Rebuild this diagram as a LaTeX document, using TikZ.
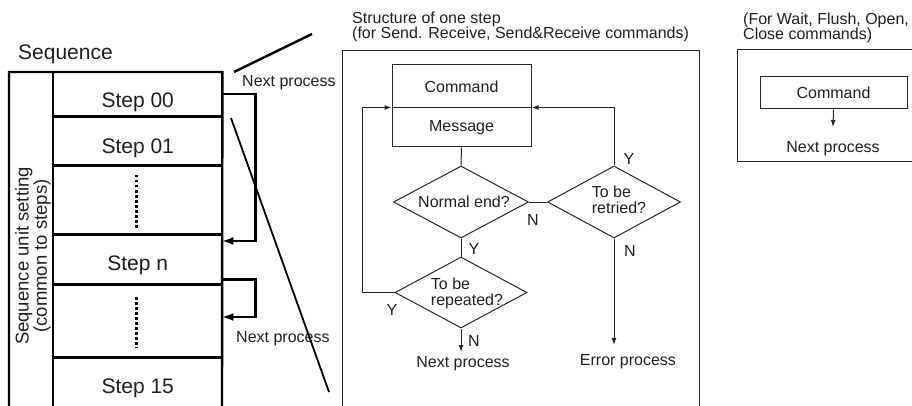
\documentclass[tikz,border=0pt]{standalone}
\usepackage{fontspec}
\setmainfont{Liberation Sans}
\usetikzlibrary{arrows.meta,shapes.geometric}
\begin{document}
\begin{tikzpicture}[x=1pt,y=-1pt,
  thickline/.style={line width=2.4pt, draw=black},
  thickarr/.style={thickline, -{Latex[length=12pt,width=8pt]}},
  thinline/.style={line width=1pt, draw=black!85},
  arr/.style={thinline, -{Latex[length=7pt,width=5pt]}},
  bigtxt/.style={font=\fontsize{21}{24}\selectfont, text=black!88},
  smalltxt/.style={font=\fontsize{16}{16}\selectfont, text=black!88, inner sep=0pt},
  rottxt/.style={font=\fontsize{18.5}{16}\selectfont, text=black!88, align=center, inner sep=0pt},
  rowbox/.style={bigtxt, minimum width=169pt, inner sep=0pt, anchor=north west},
  fbox/.style={thinline, draw, smalltxt, inner sep=0pt},
  dec/.style={diamond, draw=black!85, line width=1pt, inner sep=0pt, aspect=2, minimum height=72pt},
  dotline/.style={line width=3pt, dash pattern=on 2.5pt off 2.5pt, draw=black}
]
\useasboundingbox (0,0) rectangle (912,406);

% ---------------- left: sequence ----------------
\node[bigtxt, anchor=base west, inner sep=0pt] (seqlbl) at (18,60) {Sequence};

\node[rowbox, text height=35pt, text depth=9pt] (r00) at (53,72) {Step 00};
\node[rowbox, text height=37pt, text depth=12pt] (r01) at (53,116) {Step 01};
\node[rowbox, minimum height=69pt] (d1) at (53,165) {};
\node[rowbox, text height=36pt, text depth=14pt] (rn) at (53,234) {Step n};
\node[rowbox, minimum height=73pt] (d2) at (53,284) {};
\node[rowbox, text height=36pt, text depth=13pt] (r15) at (53,357) {Step 15};

\draw[thickline] (9,406) -- (9,72) -- (r00.north east) -- (222,406);
\draw[thickline] (r00.north west) -- (53,406);
\foreach \nd in {r00,r01,d1,rn,d2}{
  \draw[thickline] (\nd.south west) -- (\nd.south east);
}
\draw[dotline] ([xshift=-1.5pt,yshift=-10pt]d1.north) -- ([xshift=-1.5pt,yshift=6pt]d1.south);
\draw[dotline] ([xshift=-1.5pt,yshift=-13pt]d2.north) -- ([xshift=-1.5pt,yshift=9pt]d2.south);

\node[rottxt, rotate=90] (unit) at (33,256) {Sequence unit setting\\(common to steps)};

\draw[thickarr, shorten >=-1pt] (r00.east) -- ++(33,0) |- ([yshift=-7pt]rn.north east);
\draw[thickarr, shorten >=-1pt] ([yshift=5pt]rn.south east) -- ++(33,0) |- ([yshift=-33pt]d2.north east);

\node[smalltxt, anchor=west] (np1) at (242,83) {Next process};
\node[smalltxt, anchor=west] (np2) at (236,339) {Next process};

\coordinate (z1a) at (234,72);
\coordinate (z1b) at (312,34);
\coordinate (z2a) at (231,118);
\coordinate (z2b) at (329,392);
\draw[thickline] (z1a) -- (z1b);
\draw[line width=1.8pt] (z2a) -- (z2b);

% ---------------- middle: structure of one step ----------------
\node[smalltxt, anchor=base west] (t1) at (352,24) {Structure of one step};
\node[smalltxt, anchor=base west] (t2) at (352,39) {(for Send. Receive, Send\&Receive commands)};
\draw[thinline] (342,406) -- (342,51) -- (699,51) -- (699,406);

\node[fbox, minimum width=139pt, minimum height=43pt] (cmd) at (461.5,86.5) {Command};
\node[fbox, minimum width=139pt, minimum height=39pt] (msg) at (461.5,127.5) {Message};

\node[dec, minimum width=135pt,
  label={[smalltxt, xshift=3pt]center:Normal end?}] (ne) at (461,202) {};
\node[dec, minimum width=133pt,
  label={[smalltxt, align=left, xshift=5pt, yshift=2pt]center:{To be\\retried?}}] (rt) at (614,202) {};
\node[dec, minimum width=132pt, minimum height=71pt,
  label={[smalltxt, align=left, xshift=6pt, yshift=-1pt]center:{To be\\repeated?}}] (rp) at (461,292.5) {};

\draw[thinline] (msg.south) -- (ne.north);
\draw[thinline] (ne.east) -- (rt.west);
\draw[thinline] (ne.south) -- (rp.north);
\draw[arr] (rt.north) |- (msg.north east);
\coordinate (lp) at (362,292.5);
\draw[arr] (rp.west) -- (lp) |- (msg.north west);

\node[smalltxt, anchor=north] (np3) at (463,356) {Next process};
\node[smalltxt, anchor=north] (ep) at (628,354) {Error process};
\draw[arr] (rp.south) -- ([yshift=4pt]rp.south |- np3.north);
\draw[arr] (rt.south) -- ([yshift=9pt]rt.south |- ep.north);

\node[smalltxt] (yrt) at (629,159) {Y};
\node[smalltxt] (nne) at (533,220) {N};
\node[smalltxt] (yne) at (474,249) {Y};
\node[smalltxt] (yrp) at (392,310) {Y};
\node[smalltxt] (nrp) at (474,341) {N};
\node[smalltxt] (nrt) at (630,251) {N};

% ---------------- right: wait/flush/open/close ----------------
\node[smalltxt, anchor=base west] (t3) at (743,25) {(For Wait, Flush, Open,};
\node[smalltxt, anchor=base west] (t4) at (743,40) {Close commands)};
\draw[thinline] (912,50) -- (737,50) -- (737,162) -- (912,162);
\node[fbox, minimum width=147pt, minimum height=32pt] (cmd2) at (833.5,93) {Command};
\node[smalltxt, anchor=north] (np4) at (833,141) {Next process};
\draw[arr] (cmd2.south) -- ([yshift=14pt]np4.north);
\end{tikzpicture}
\end{document}
